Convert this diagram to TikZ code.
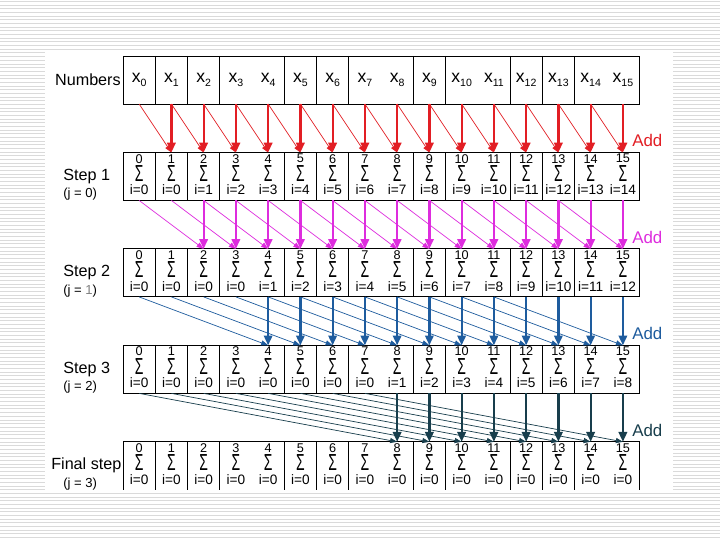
\documentclass[tikz,border=0pt]{standalone}
\usepackage{fontspec}
\setmainfont{Liberation Sans}
\usetikzlibrary{calc,arrows.meta}
\definecolor{addred}{RGB}{226,30,36}
\definecolor{addpink}{RGB}{222,44,222}
\definecolor{addblue}{RGB}{30,92,158}
\definecolor{adddark}{RGB}{24,62,76}
\definecolor{stripe}{RGB}{218,218,218}
\newcommand\xsub[1]{x\raisebox{-0.45ex}{\fontsize{7.5}{7.5}\selectfont#1}}
\newcommand\sumsign{\scalebox{0.6}[1]{\fontsize{16.5}{16.5}\selectfont Σ}}
\tikzset{
 ps cell/.style={minimum width=0.80625cm,minimum height=1.2cm,inner sep=0pt,
                 outer sep=0pt,font=\fontsize{12.5}{12.5}\selectfont},
 ps frame/.style={line width=0.7pt},
 ps stripe/.style={stripe,line width=0.55pt},
 ps row label/.style={font=\fontsize{11.5}{13}\selectfont,inner sep=0pt},
 ps j label/.style={font=\fontsize{9.3}{10}\selectfont,inner sep=0pt,anchor=west},
 ps top label/.style={font=\fontsize{9}{9}\selectfont,inner sep=0pt},
 ps sum label/.style={inner sep=0pt},
 ps idx label/.style={font=\fontsize{9.7}{10}\selectfont,inner sep=0pt},
 ps add label/.style={font=\fontsize{12}{14}\selectfont,anchor=west,inner sep=0pt},
 ps vert/.style={line width=1.6pt,-{Triangle[length=7pt,width=6pt]}},
 ps diag/.style={line width=0.5pt,-{Triangle[length=5pt,width=3.6pt]}}
}

\begin{document}
\begin{tikzpicture}[x=0.025cm,y=-0.025cm]
 \useasboundingbox (0,0) rectangle (720,540);
 % slide background
 \foreach \s in {0,...,146}
   \draw[ps stripe] (0,{\s*3.67+1.5}) -- (720,{\s*3.67+1.5});
 \fill[white] (45,51) rectangle (673,493);

 % input row
 \foreach \colm in {0,...,15}{
   \pgfmathsetmacro\cx{123+32.25*(\colm+0.5)}
   \node[ps cell] (cell0-\colm) at (\cx,80) {\xsub{\colm}};
 }
 \node[ps row label,anchor=east] (lab0) at (121,80) {Numbers};

 % partial sum rows
 \foreach \row in {1,...,4}{
   \pgfmathsetmacro\ty{56+96.45*\row}
   \foreach \colm in {0,...,15}{
     \pgfmathsetmacro\cx{123+32.25*(\colm+0.5)}
     \pgfmathtruncatemacro\lo{max(0,\colm-2^\row+1)}
     \node[ps cell] (cell\row-\colm) at (\cx,\ty+24) {};
     \node[ps top label] (top\row-\colm) at ($(cell\row-\colm.north)+(0,6.2)$) {\colm};
     \node[ps sum label] (sum\row-\colm) at ($(cell\row-\colm.north)+(0,21)$) {\sumsign};
     \node[ps idx label] (idx\row-\colm) at ($(cell\row-\colm.north)+(0,37.5)$) {i=\lo};
   }
 }
 \node[ps row label,anchor=west] (lab1) at (63,176.2) {Step 1};
 \node[ps j label] (j1) at (63,194.5) {(j = 0)};
 \node[ps row label,anchor=west] (lab2) at (63,272.7) {Step 2};
 \node[ps j label] (j2) at (63,291) {(j = \textcolor{gray}{1})};
 \node[ps row label,anchor=west] (lab3) at (63,369.2) {Step 3};
 \node[ps j label] (j3) at (63,387.5) {(j = 2)};
 \node[ps row label,anchor=west] (lab4) at (51,465.6) {Final step};
 \node[ps j label] (j4) at (63,484) {(j = 3)};

 % frames
 \foreach \row in {0,...,3}
   \draw[ps frame] (cell\row-0.north west) rectangle (cell\row-15.south east);
 \draw[ps frame] (cell4-0.south west) -- (cell4-0.north west)
   -- (cell4-15.north east) -- (cell4-15.south east);
 \foreach \row in {0,...,4}
   \foreach \colm in {1,2,3,5,6,7,9,10,12,13,14}
     \draw[ps frame] (cell\row-\colm.north west) -- (cell\row-\colm.south west);

 % additions
 \foreach \row/\clr in {1/addred,2/addpink,3/addblue,4/adddark}{
   \pgfmathtruncatemacro\prev{\row-1}
   \pgfmathtruncatemacro\dist{2^(\row-1)}
   \pgfmathsetmacro\ty{56+96.45*\row}
   \foreach \colm in {\dist,...,15}{
     \pgfmathtruncatemacro\src{\colm-\dist}
     \draw[ps diag,\clr] (cell\prev-\src.south) -- (cell\row-\colm.north);
     \draw[ps vert,\clr] (cell\prev-\colm.south) -- (cell\row-\colm.north);
   }
   \node[ps add label,text=\clr] (add\row) at (632,\ty-11.5) {Add};
 }
\end{tikzpicture}
\end{document}
